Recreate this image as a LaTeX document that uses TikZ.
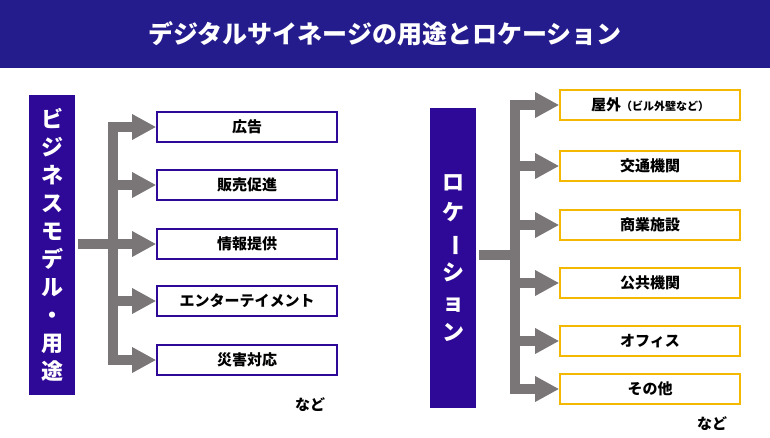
\documentclass[tikz,border=0pt]{standalone}
\usepackage{fontspec}
\setmainfont{Noto Sans CJK JP}
\usetikzlibrary{arrows.meta,positioning}
\definecolor{banner}{HTML}{241C8C}
\definecolor{barblue}{HTML}{2E0896}
\definecolor{arrowgray}{HTML}{7A7677}
\definecolor{boxorange}{HTML}{F5B800}
\newcommand{\vbar}{\rotatebox[origin=c]{-90}{ー}}
\tikzset{
  usebox/.style={draw=barblue,line width=1.6pt,minimum width=180pt,minimum height=30pt,font=\bfseries\fontsize{15}{15}\selectfont,inner sep=0pt},
  locbox/.style={usebox,draw=boxorange},
  sidebar/.style={fill=barblue,text=white,minimum width=46pt,minimum height=300pt,align=center,inner sep=0pt},
  flow/.style={draw=arrowgray,line width=10pt,-{Triangle[length=24pt,width=24pt]}},
  stub/.style={draw=arrowgray,line width=10pt,line cap=rect}
}
\begin{document}
\begin{tikzpicture}[x=1pt,y=-1pt]
  \useasboundingbox (0,0) rectangle (770,437);
  \fill[banner] (0,0) rectangle (770,68);
  \node[text=white,font=\bfseries\fontsize{25}{25}\selectfont] (title) at (385,34) {デジタルサイネージの用途とロケーション};

  % left side
  \node[sidebar,font=\bfseries\fontsize{22}{28}\selectfont] (biz) at (52,245) {ビ\\ジ\\ネ\\ス\\モ\\デ\\ル\\・\\用\\途};
  \node[usebox] (u1) at (247,127) {広告};
  \node[usebox] (u2) at (247,185) {販売促進};
  \node[usebox] (u3) at (247,244) {情報提供};
  \node[usebox] (u4) at (247,301) {エンターテイメント};
  \node[usebox] (u5) at (247,360) {災害対応};
  \node[font=\bfseries\fontsize{15}{15}\selectfont] (etc1) at (310,405) {など};
  \coordinate (lt) at (113,127);
  \coordinate (lb) at (113,360);
  \draw[stub] (83,244) -- (108,244);
  \draw[stub] (lt) -- (lb);
  \foreach \b in {u1,u2,u3,u4,u5}
    \draw[flow] (lt |- \b.west) -- (\b.west);

  % right side
  \node[sidebar,font=\bfseries\fontsize{22}{30}\selectfont] (loc) at (453,258) {ロ\\ケ\\\vbar\\シ\\ョ\\ン};
  \node[locbox] (l1) at (650,105) {屋外\fontsize{11}{11}\selectfont（ビル外壁など）};
  \node[locbox] (l2) at (650,166) {交通機関};
  \node[locbox] (l3) at (650,225) {商業施設};
  \node[locbox] (l4) at (650,283) {公共機関};
  \node[locbox] (l5) at (650,341) {オフィス};
  \node[locbox] (l6) at (650,389) {その他};
  \node[font=\bfseries\fontsize{15}{15}\selectfont] (etc2) at (712,424) {など};
  \coordinate (rt) at (515,105);
  \coordinate (rb) at (515,389);
  \draw[stub] (484,255) -- (510,255);
  \draw[stub] (rt) -- (rb);
  \foreach \b in {l1,l2,l3,l4,l5,l6}
    \draw[flow] (rt |- \b.west) -- (\b.west);
\end{tikzpicture}
\end{document}
